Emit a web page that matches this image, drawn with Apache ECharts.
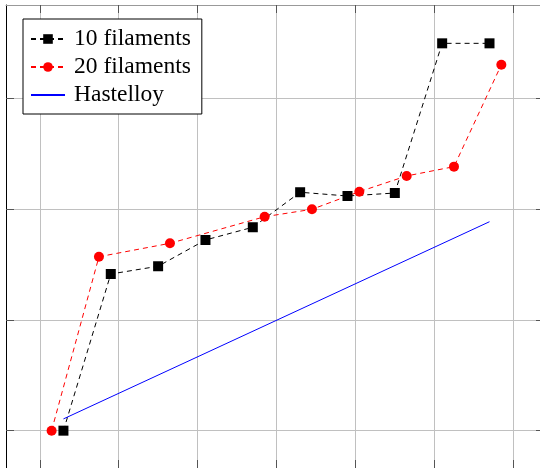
<!DOCTYPE html>
<html><head><meta charset="utf-8">
<script src="https://cdn.jsdelivr.net/npm/echarts@6/dist/echarts.min.js"></script>
<style>html,body{margin:0;padding:0;background:#fff}#c{width:540px;height:468px}</style>
</head><body><div id="c"></div>
<script>
const gridX = [0, 1, 2, 3, 4, 5, 6];
const gridY = [0, 1, 2, 3];
const x10 = [0.3, 0.9, 1.5, 2.1, 2.7, 3.3, 3.9, 4.5, 5.1, 5.7];
const y10 = [0, 1.414, 1.484, 1.721, 1.836, 2.152, 2.118, 2.145, 3.496, 3.496];
const x20 = [0.15, 0.75, 1.65, 2.85, 3.45, 4.05, 4.65, 5.25, 5.85];
const y20 = [0, 1.570, 1.691, 1.931, 1.998, 2.157, 2.299, 2.383, 3.303];
const xHas = [0.3, 5.7];
const yHas = [0.106, 1.886];
const names = ['10 filaments', '20 filaments', 'Hastelloy'];

const zip = (a, b) => a.map((v, i) => [v, b[i]]);
const chart = echarts.init(document.getElementById('c'), null, {renderer: 'canvas'});
const xMin = -0.428, xMax = 6.340, yMin = -0.337, yMax = 3.842;
function axX(pos, lineColor, showLine, showSplit, len) {
  return {
    type: 'value', position: pos, min: xMin, max: xMax,
    axisLine: {show: showLine, onZero: false, lineStyle: {color: lineColor, width: 1}},
    axisTick: {show: true, inside: true, length: len, customValues: gridX, lineStyle: {color: '#555'}},
    axisLabel: {show: false},
    splitLine: {show: showSplit, lineStyle: {color: '#c0c0c0', width: 1}}
  };
}
function axY(pos, lineColor, showLine, showSplit, len) {
  return {
    type: 'value', position: pos, min: yMin, max: yMax,
    axisLine: {show: showLine, onZero: false, lineStyle: {color: lineColor, width: 1}},
    axisTick: {show: true, inside: true, length: len, customValues: gridY, lineStyle: {color: '#555'}},
    axisLabel: {show: false},
    splitLine: {show: showSplit, lineStyle: {color: '#c0c0c0', width: 1}}
  };
}
chart.setOption({
  animation: false,
  grid: {left: 6, top: 5, right: 0, bottom: 0, containLabel: false},
  xAxis: [axX('bottom', '#000', false, true, 8), axX('top', '#999', true, false, 8)],
  yAxis: [axY('left', '#000', true, true, 8), axY('right', '#000', false, false, 4)],
  legend: {
    orient: 'vertical', left: 23, top: 19,
    padding: [8, 11, 7, 7], itemGap: 4, itemWidth: 34, itemHeight: 12,
    backgroundColor: '#fff', borderColor: '#000', borderWidth: 1, borderRadius: 0,
    textStyle: {fontFamily: 'Liberation Serif', fontSize: 23.5, color: '#000', padding: [0, 0, 0, 4]},
    data: [{name: names[0]}, {name: names[1]}, {name: names[2], itemStyle: {opacity: 0}}]
  },
  series: [
    {name: names[0], type: 'line', data: zip(x10, y10), symbol: 'rect', symbolSize: 10,
     lineStyle: {color: '#000', width: 1, type: [5, 4]}, itemStyle: {color: '#000'}},
    {name: names[1], type: 'line', data: zip(x20, y20), symbol: 'circle', symbolSize: 10,
     lineStyle: {color: '#ff0000', width: 1, type: [5, 4]}, itemStyle: {color: '#ff0000'}},
    {name: names[2], type: 'line', data: zip(xHas, yHas), symbol: 'none',
     lineStyle: {color: '#0000ff', width: 1, type: 'solid'}, itemStyle: {color: '#0000ff'}}
  ]
});
</script></body></html>
